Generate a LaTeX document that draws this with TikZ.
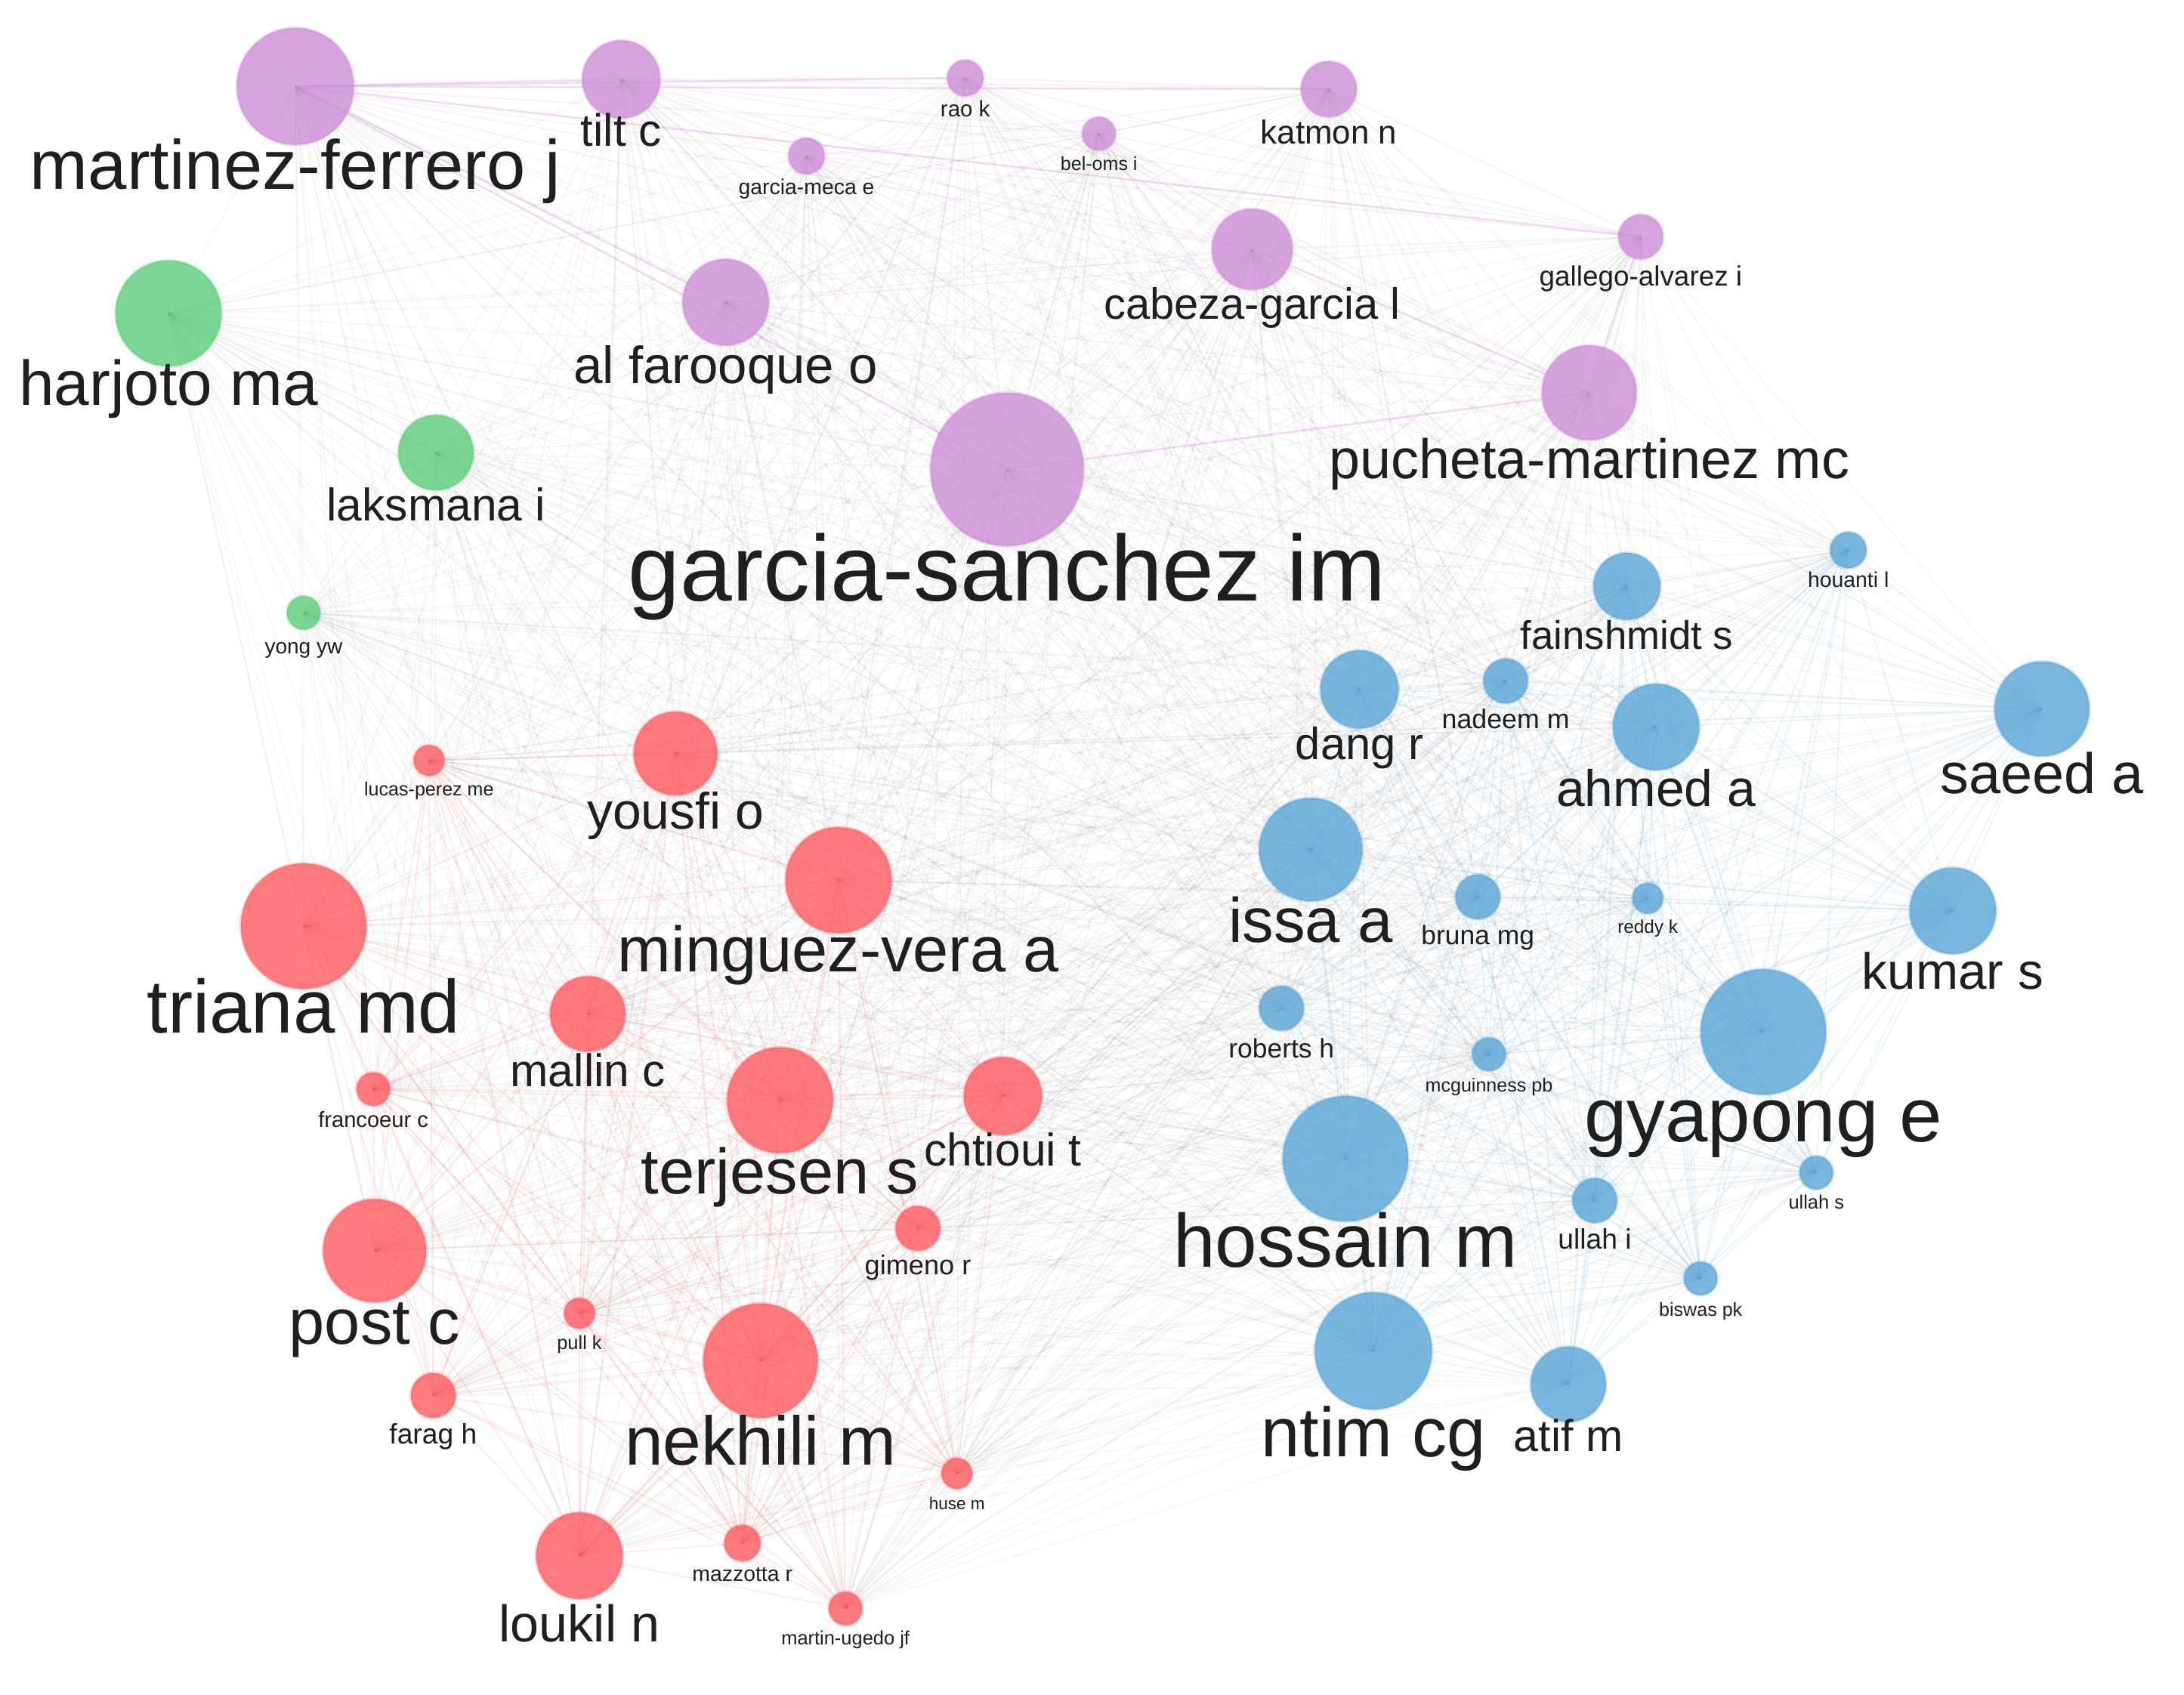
\documentclass[tikz,border=0pt]{standalone}
\usepackage{fontspec}
\setmainfont{Liberation Sans}
\usetikzlibrary{backgrounds}
\definecolor{cpur}{RGB}{205,140,215}
\definecolor{cgrn}{RGB}{90,205,120}
\definecolor{cred}{RGB}{255,90,95}
\definecolor{cblu}{RGB}{88,165,215}
\def\authors{%
mf/212/62/42/cpur/martinez-ferrero j/120/25,
tc/446/57/28/cpur/tilt c/93/16.3,
rk/693/56/13/cpur/rao k/75/8,
gm/579/112/13/cpur/garcia-meca e/131/7.7,
bo/789/96/12/cpur/bel-oms i/114/6.8,
kn/954/64/20/cpur/katmon n/93/11.9,
cg/899/179/29/cpur/cabeza-garcia l/217/15.7,
ga/1178/170/16/cpur/gallego-alvarez i/196/10,
af/521/217/31/cpur/al farooque o/262/18.7,
pm/1141/282/34/cpur/pucheta-martinez mc/330/20,
gs/723/337/55/cpur/garcia-sanchez im/412/33.5,
hj/121/225/38/cgrn/harjoto ma/276/22.7,
lk/313/325/27/cgrn/laksmana i/362/16.4,
yy/218/440/12/cgrn/yong yw/461/7.6,
lp/308/546/11/cred/lucas-perez me/563/6.8,
yo/485/541/30/cred/yousfi o/582/18.4,
mv/602/632/38/cred/minguez-vera a/683/23,
tr/218/665/45/cred/triana md/725/27,
ml/422/728/27/cred/mallin c/768/16.4,
fr/268/782/12/cred/francoeur c/801/7.9,
ts/560/790/38/cred/terjesen s/842/23,
ch/720/787/28/cred/chtioui t/825/16.4,
gi/659/882/16/cred/gimeno r/906/9.8,
pc/269/898/37/cred/post c/950/23,
pk/416/943/11/cred/pull k/961/6.9,
nk/546/977/41/cred/nekhili m/1036/24.7,
fh/311/1002/16/cred/farag h/1027/10.1,
hm/687/1058/11/cred/huse m/1076/6.1,
mz/533/1108/13/cred/mazzotta r/1127/7.7,
ln/416/1117/31/cred/loukil n/1166/18.5,
mu/607/1155/12/cred/martin-ugedo jf/1173/6.9,
ho/1327/395/13/cblu/houanti l/413/7.7,
fs/1168/421/24/cblu/fainshmidt s/455/14.3,
dr/976/495/28/cblu/dang r/533/16.2,
nm/1081/489/16/cblu/nadeem m/514/9.7,
aa/1189/522/31/cblu/ahmed a/566/18.4,
sa/1466/509/34/cblu/saeed a/556/20.5,
ia/941/610/37/cblu/issa a/662/22.6,
bm/1061/644/16/cblu/bruna mg/669/9.6,
rd/1183/645/11/cblu/reddy k/662/6.6,
ks/1402/654/31/cblu/kumar s/697/18.3,
rh/920/724/16/cblu/roberts h/750/9.6,
mg/1069/757/12/cblu/mcguinness pb/776/6.8,
ge/1266/741/45/cblu/gyapong e/803/27.5,
hs/966/832/45/cblu/hossain m/893/27.1,
ui/1145/862/16/cblu/ullah i/887/10.1,
us/1304/842/12/cblu/ullah s/860/6.9,
bp/1221/918/12/cblu/biswas pk/937/6.8,
nc/986/970/42/cblu/ntim cg/1030/25,
am/1126/994/27/cblu/atif m/1030/16}
\def\groups{mf/1,tc/1,rk/1,gm/1,bo/1,kn/1,cg/1,ga/1,af/1,pm/1,gs/1,
hj/2,lk/2,yy/2,
lp/3,yo/3,mv/3,tr/3,ml/3,fr/3,ts/3,ch/3,gi/3,pc/3,pk/3,nk/3,fh/3,hm/3,mz/3,ln/3,mu/3,
ho/4,fs/4,dr/4,nm/4,aa/4,sa/4,ia/4,bm/4,rd/4,ks/4,rh/4,mg/4,ge/4,hs/4,ui/4,us/4,bp/4,nc/4,am/4}
\begin{document}
\begin{tikzpicture}[x=0.5pt,y=-0.5pt,
  au/.style={circle,inner sep=0pt,fill opacity=0.8,draw opacity=0.3,line width=1pt},
  lab/.style={anchor=mid,inner sep=0pt,text=black!88},
  lk1/.style={draw=cpur,opacity=0.12,line width=0.5pt},
  lk2/.style={draw=cgrn,opacity=0.10,line width=0.5pt},
  lk3/.style={draw=cred,opacity=0.13,line width=0.5pt},
  lk4/.style={draw=cblu,opacity=0.12,line width=0.5pt},
  lkx/.style={draw=black,opacity=0.03,line width=0.5pt},
  lkstrong/.style={draw=cpur,opacity=0.2,line width=0.8pt}]
\useasboundingbox (0,0) rectangle (1568,1217);
\foreach \nid/\nx/\ny/\nr/\ncol/\lbl/\ly/\fs in \authors {
  \node[au,fill=\ncol,draw=\ncol,minimum size=\nr pt] (\nid) at (\nx,\ny) {};
}
\foreach \nid/\nx/\ny/\nr/\ncol/\lbl/\ly/\fs in \authors {
  \node[lab,font=\fontsize{\fs}{\fs}\selectfont,yshift={-0.21*\fs pt}] (\nid l) at (\nx,\ly) {\lbl};
}
\begin{scope}[on background layer]
  \fill[white] (0,0) rectangle (1568,1217);
  \foreach \a/\ga [count=\i] in \groups {
    \foreach \b/\gb [count=\j] in \groups {
      \ifnum\j>\i
        \ifnum\ga=\gb
          \draw[lk\ga] (\a.center) -- (\b.center);
        \else
          \draw[lkx] (\a.center) -- (\b.center);
        \fi
      \fi
    }
  }
  \foreach \a/\b in {mf/gs,mf/kn,mf/ga,mf/tc,mf/rk,gs/pm,ga/pm,cg/pm,mf/af}
    \draw[lkstrong] (\a.center) -- (\b.center);
\end{scope}
\end{tikzpicture}
\end{document}
